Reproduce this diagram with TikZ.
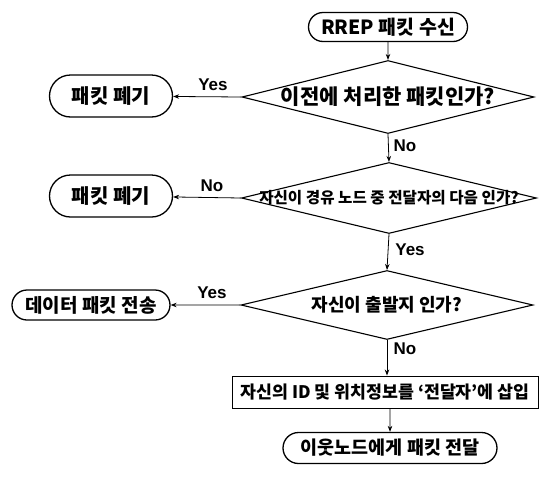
\documentclass[tikz,border=0pt]{standalone}
\usepackage{fontspec}
\setmainfont{Noto Sans CJK KR}
\newfontfamily\answerfont{Liberation Sans}
\usetikzlibrary{shapes.geometric,shapes.misc,arrows.meta}

\newcommand{\fsz}[1]{\fontsize{#1}{#1}\selectfont}

\tikzset{
  terminal/.style={draw, rounded rectangle, line width=1.3pt, inner sep=0pt, font=\bfseries\fsz{18}},
  decision/.style={draw, diamond, line width=1.1pt, inner sep=0pt},
  process/.style={draw, rectangle, line width=0.9pt, inner sep=0pt, font=\bfseries\fsz{17.3}},
  answer/.style={font=\answerfont\bfseries\fsz{17}},
  flow/.style={line width=0.8pt, -{Stealth[length=6pt,width=4.5pt]}},
}

\begin{document}
\begin{tikzpicture}[x=1pt, y=-1pt]
\useasboundingbox (0,0) rectangle (539,480);

% ---------- main column ----------
\node[terminal, minimum width=159pt, minimum height=29pt, font=\bfseries\fsz{19.5}] (recv) at (388,27) {RREP 패킷 수신};
\node[decision, minimum width=292pt, minimum height=73pt,
  label={[font=\bfseries\fsz{21}]center:이전에 처리한 패킷인가?}] (seen) at (388,97) {};
\node[decision, minimum width=295pt, minimum height=71pt,
  label={[font=\bfseries\fsz{15.6}]center:자신이 경유 노드 중 전달자의 다음 인가?}] (nexthop) at (389,198) {};
\node[decision, minimum width=292pt, minimum height=69pt,
  label={[font=\bfseries\fsz{18}]center:자신이 출발지 인가?}] (origin) at (387,305) {};
\node[process, minimum width=306pt, minimum height=32pt] (insert) at (385,392) {자신의 ID 및 위치정보를 `전달자'에 삽입};
\node[terminal, minimum width=214pt, minimum height=31pt, font=\bfseries\fsz{18.5}] (fwd) at (390,448) {이웃노드에게 패킷 전달};

% ---------- side exits ----------
\node[terminal, minimum width=123pt, minimum height=42pt, font=\bfseries\fsz{20}] (drop1) at (111,96) {패킷 폐기};
\node[terminal, minimum width=123pt, minimum height=42pt, font=\bfseries\fsz{20}] (drop2) at (111,196) {패킷 폐기};
\node[terminal, minimum width=158pt, minimum height=30pt, font=\bfseries\fsz{19}] (send) at (91,305) {데이터 패킷 전송};

% ---------- answers ----------
\node[answer] (seenyes) at (213,85) {Yes};
\node[answer] (seenno) at (405,146) {No};
\node[answer] (nextno) at (212,186) {No};
\node[answer] (nextyes) at (410,250) {Yes};
\node[answer] (origyes) at (212,293) {Yes};
\node[answer] (origno) at (405,349) {No};

% ---------- connectors ----------
\draw[flow] (recv) -- (seen.north);
\draw[flow] (seen.west) -- (drop1);
\draw[flow] (seen.south) -- (nexthop.north);
\draw[flow] (nexthop.west) -- (drop2);
\draw[flow] (nexthop.south) -- (origin.north);
\draw[flow] (origin.west) -- (send);
\draw[flow] (origin.south) -- (origin.south |- insert.north);
\draw[flow] (insert.south -| fwd.north) -- (fwd);

\end{tikzpicture}
\end{document}
